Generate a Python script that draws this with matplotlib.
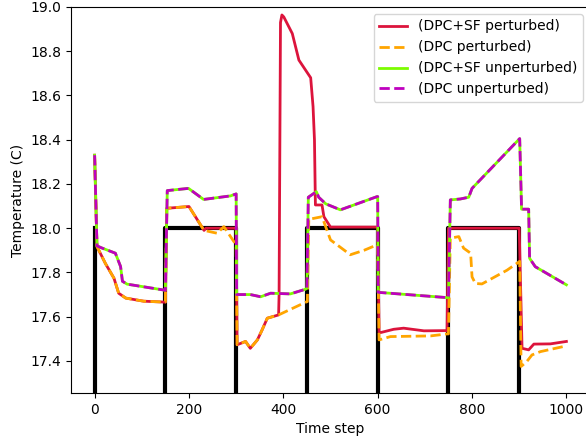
import matplotlib
matplotlib.use("Agg")
import matplotlib.pyplot as plt

# setpoint (black): 18 C in the "on" windows, far below the view otherwise
sp_t = [0, 1, 150, 300, 450, 600, 750, 900, 1000]
sp_v = [18.0, 17.0, 18.0, 17.0, 18.0, 17.0, 18.0, 17.0, 17.0]

# unperturbed runs (DPC and DPC+SF overlap)
unp_t = [0, 5, 16, 44, 55, 59, 69, 148, 150, 154, 199, 231, 288, 300, 301,
         330, 352, 373, 415, 447, 450, 453, 470, 475, 490, 521, 599, 600, 601,
         748, 750, 754, 775, 793, 800, 901, 905, 920, 922, 934, 1000]
unp_v = [18.33, 17.92, 17.91, 17.887, 17.827, 17.76, 17.747, 17.72, 17.72, 18.17, 18.18, 18.13, 18.146, 18.155, 17.70,
         17.70, 17.69, 17.706, 17.703, 17.724, 17.73, 18.14, 18.165, 18.14, 18.11, 18.083, 18.143, 18.143, 17.71,
         17.686, 17.686, 18.128, 18.132, 18.14, 18.18, 18.405, 18.086, 18.086, 17.864, 17.826, 17.744]

# DPC perturbed
dpc_t = [0, 5, 23, 41, 51, 66, 104, 147, 150, 153, 200, 232, 260, 274, 295, 300, 302,
         320, 330, 345, 355, 366, 390, 450, 451, 454, 482, 500, 542, 571, 599, 600, 603,
         627, 712, 747, 750, 754, 772, 782, 797, 800, 807, 821, 874, 901, 904, 916, 927, 945, 1000]
dpc_v = [18.33, 17.917, 17.84, 17.774, 17.706, 17.684, 17.67, 17.666, 17.666, 18.09, 18.098, 17.99, 17.977, 18.007, 17.94, 17.93, 17.473,
         17.488, 17.457, 17.495, 17.54, 17.593, 17.608, 17.668, 17.668, 18.04, 18.052, 17.947, 17.88, 17.90, 17.925, 17.925, 17.495,
         17.51, 17.513, 17.522, 17.522, 17.955, 17.962, 17.91, 17.887, 17.78, 17.75, 17.748, 17.81, 17.85, 17.375, 17.397, 17.427, 17.442, 17.468]

# DPC+SF perturbed
sf_t = [0, 5, 23, 41, 51, 66, 104, 147, 150, 153, 200, 232, 236, 300, 302,
        320, 330, 345, 355, 366, 390, 391, 394, 397, 401, 419, 433, 458, 463, 466, 468, 482, 486, 500, 600, 603,
        606, 634, 655, 698, 747, 750, 900, 906, 920, 931, 966, 1000]
sf_v = [18.33, 17.917, 17.84, 17.774, 17.706, 17.684, 17.67, 17.666, 17.666, 18.09, 18.098, 17.99, 18.0, 18.0, 17.473,
        17.488, 17.457, 17.495, 17.54, 17.593, 17.608, 17.70, 18.93, 18.964, 18.955, 18.88, 18.76, 18.68, 18.55, 18.40, 18.105, 18.105, 18.052, 18.005, 18.005, 17.53,
        17.528, 17.543, 17.548, 17.536, 17.537, 18.0, 18.0, 17.457, 17.45, 17.476, 17.477, 17.488]

fig = plt.figure(figsize=(5.86, 4.43), dpi=100)
ax = fig.add_axes([0.1212, 0.1129, 0.8856, 0.8713])

ax.plot(sp_t, sp_v, color='black', lw=3, drawstyle='steps-post')
ax.plot(sf_t, sf_v, color='crimson', lw=2, label='(DPC+SF perturbed)')
ax.plot(dpc_t, dpc_v, color='orange', lw=2, ls='--', label='(DPC perturbed)')
ax.plot(unp_t, unp_v, color='lawngreen', lw=2, label='(DPC+SF unperturbed)')
ax.plot(unp_t, unp_v, color='m', lw=2, ls='--', label='(DPC unperturbed)')

ax.set_xlim(-50, 1050)
ax.set_ylim(17.255, 19.0)
ax.set_xticks([0, 200, 400, 600, 800, 1000])
ax.set_xlabel('Time step')
ax.set_ylabel('Temperature (C)')
ax.legend(loc='upper right')

fig.savefig('out.png', dpi=100)
